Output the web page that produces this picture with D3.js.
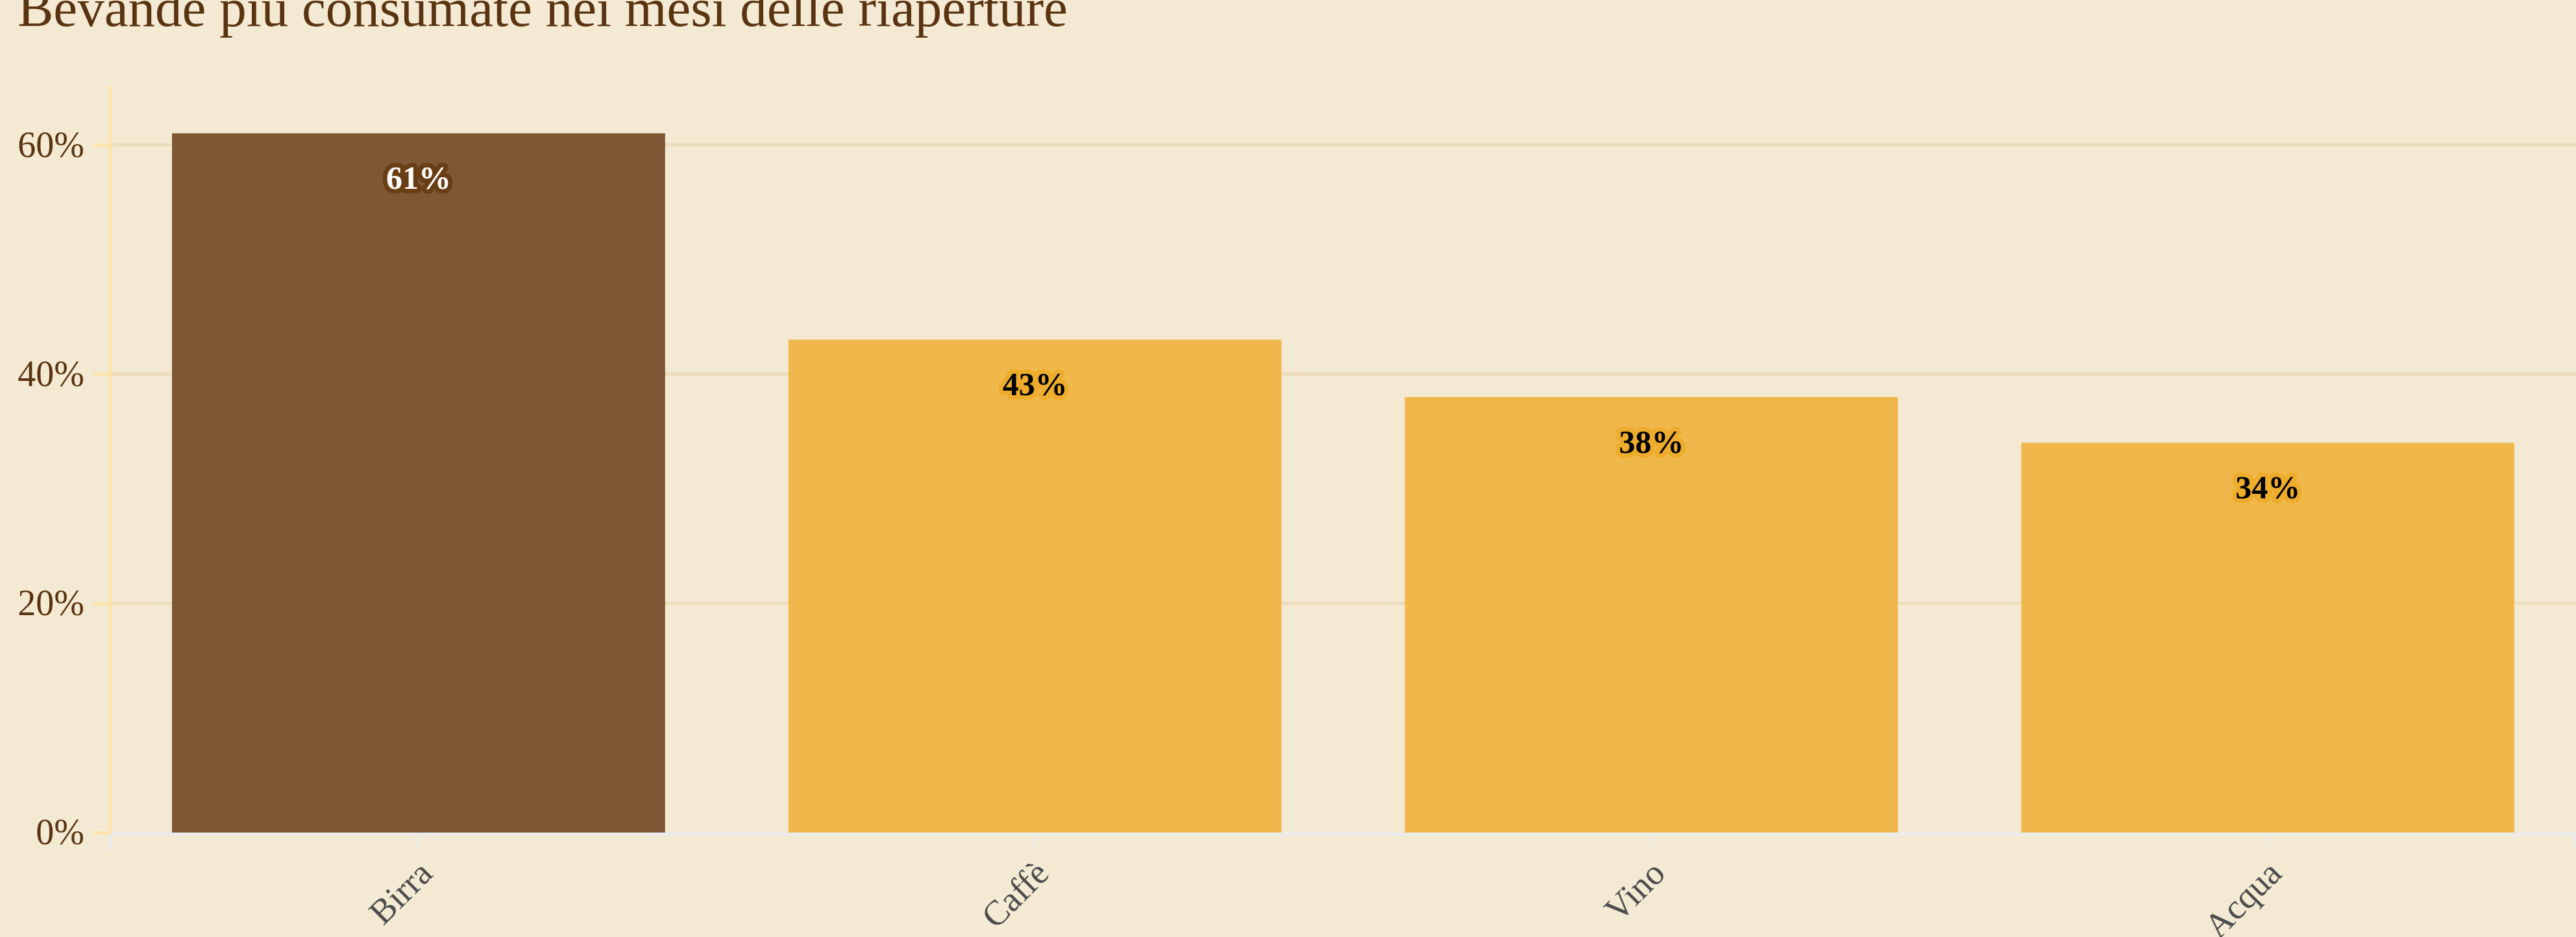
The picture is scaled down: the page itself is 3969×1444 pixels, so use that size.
<!DOCTYPE html>
<html>
<head>
<meta charset="utf-8">
<script src="https://cdn.jsdelivr.net/npm/d3@7"></script>
<style>
  body { margin: 0; background: #f4ead3; }
  svg { display: block; }
</style>
</head>
<body>
<div id="chart"></div>
<script>
// data
var categories = ["Birra", "Caffè", "Vino", "Acqua"];
var values = [61, 43, 38, 34];
var yTicks = [0, 20, 40, 60];
var titleText = "Bevande più consumate nei mesi delle riaperture";

var W = 3969, H = 1444;
var margin = {top: 133, right: 0, bottom: 161, left: 170};
var width = W - margin.left - margin.right,
    height = H - margin.top - margin.bottom;
var font = "'Liberation Serif', 'DejaVu Serif', serif";

var svg = d3.select("#chart")
  .append("svg")
    .attr("width", W)
    .attr("height", H)
    .style("background", "#f4ead3");

// title (top is clipped by the frame, as in the original)
svg.append("text")
  .attr("x", 27)
  .attr("y", 40)
  .attr("font-family", font)
  .attr("font-size", 83)
  .attr("fill", "#5a3411")
  .text(titleText);

var g = svg.append("g")
  .attr("transform", "translate(" + margin.left + "," + margin.top + ")");

var x = d3.scaleBand()
  .domain(categories)
  .range([0, width])
  .paddingInner(0.2)
  .paddingOuter(0.1);

var y = d3.scaleLinear()
  .domain([0, 65.1])
  .range([height, 0]);

// gridlines
g.append("g")
  .selectAll("line")
  .data(yTicks.filter(function(d) { return d > 0; }))
  .enter()
  .append("line")
    .attr("x1", 0)
    .attr("x2", width)
    .attr("y1", function(d) { return y(d); })
    .attr("y2", function(d) { return y(d); })
    .attr("stroke", "#ecdcbc")
    .attr("stroke-width", 5);

// baseline (grey x axis line) + ticks
var xAxis = g.append("g")
  .attr("transform", "translate(0," + (height + 2) + ")")
  .call(d3.axisBottom(x).tickSize(24).tickPadding(0));
xAxis.select(".domain")
  .attr("stroke", "#ebebeb")
  .attr("stroke-width", 5);
xAxis.selectAll(".tick line")
  .attr("stroke", "#ebebeb")
  .attr("stroke-width", 3);
xAxis.selectAll(".tick text")
  .attr("font-family", font)
  .attr("font-size", 54)
  .attr("fill", "#4d4d4d")
  .attr("text-anchor", "end")
  .attr("y", 0)
  .attr("dy", 0)
  .attr("transform", "translate(24,64) rotate(-45)");

// bars
g.append("g")
  .selectAll("rect")
  .data(values)
  .enter()
  .append("rect")
    .attr("x", function(d, i) { return x(categories[i]); })
    .attr("y", function(d) { return y(d); })
    .attr("width", x.bandwidth())
    .attr("height", function(d) { return height - y(d); })
    .attr("fill", function(d, i) { return i === 0 ? "#7e5734" : "#f0b84a"; });

// y axis
var yAxis = g.append("g")
  .call(d3.axisLeft(y).tickValues(yTicks).tickSize(26).tickPadding(14)
    .tickFormat(function(d) { return d + "%"; }));
yAxis.select(".domain")
  .attr("stroke", "#fde3aa")
  .attr("stroke-width", 5)
  .attr("d", "M0," + height + "V0");
yAxis.selectAll(".tick line")
  .attr("stroke", "#fde3aa")
  .attr("stroke-width", 5);
yAxis.selectAll(".tick text")
  .attr("font-family", font)
  .attr("font-size", 56)
  .attr("fill", "#5a3411");

// value labels with halo
g.append("g")
  .selectAll("text")
  .data(values)
  .enter()
  .append("text")
    .attr("x", function(d, i) { return x(categories[i]) + x.bandwidth() / 2; })
    .attr("y", function(d) { return y(d) + 86; })
    .attr("text-anchor", "middle")
    .attr("font-family", font)
    .attr("font-weight", "bold")
    .attr("font-size", 50)
    .attr("paint-order", "stroke")
    .attr("stroke-width", 14)
    .attr("stroke-linejoin", "round")
    .attr("stroke", function(d, i) { return i === 0 ? "#6a3e14" : "#eeac2c"; })
    .attr("fill", function(d, i) { return i === 0 ? "#ffffff" : "#000000"; })
    .text(function(d) { return d + "%"; });
</script>
</body>
</html>
